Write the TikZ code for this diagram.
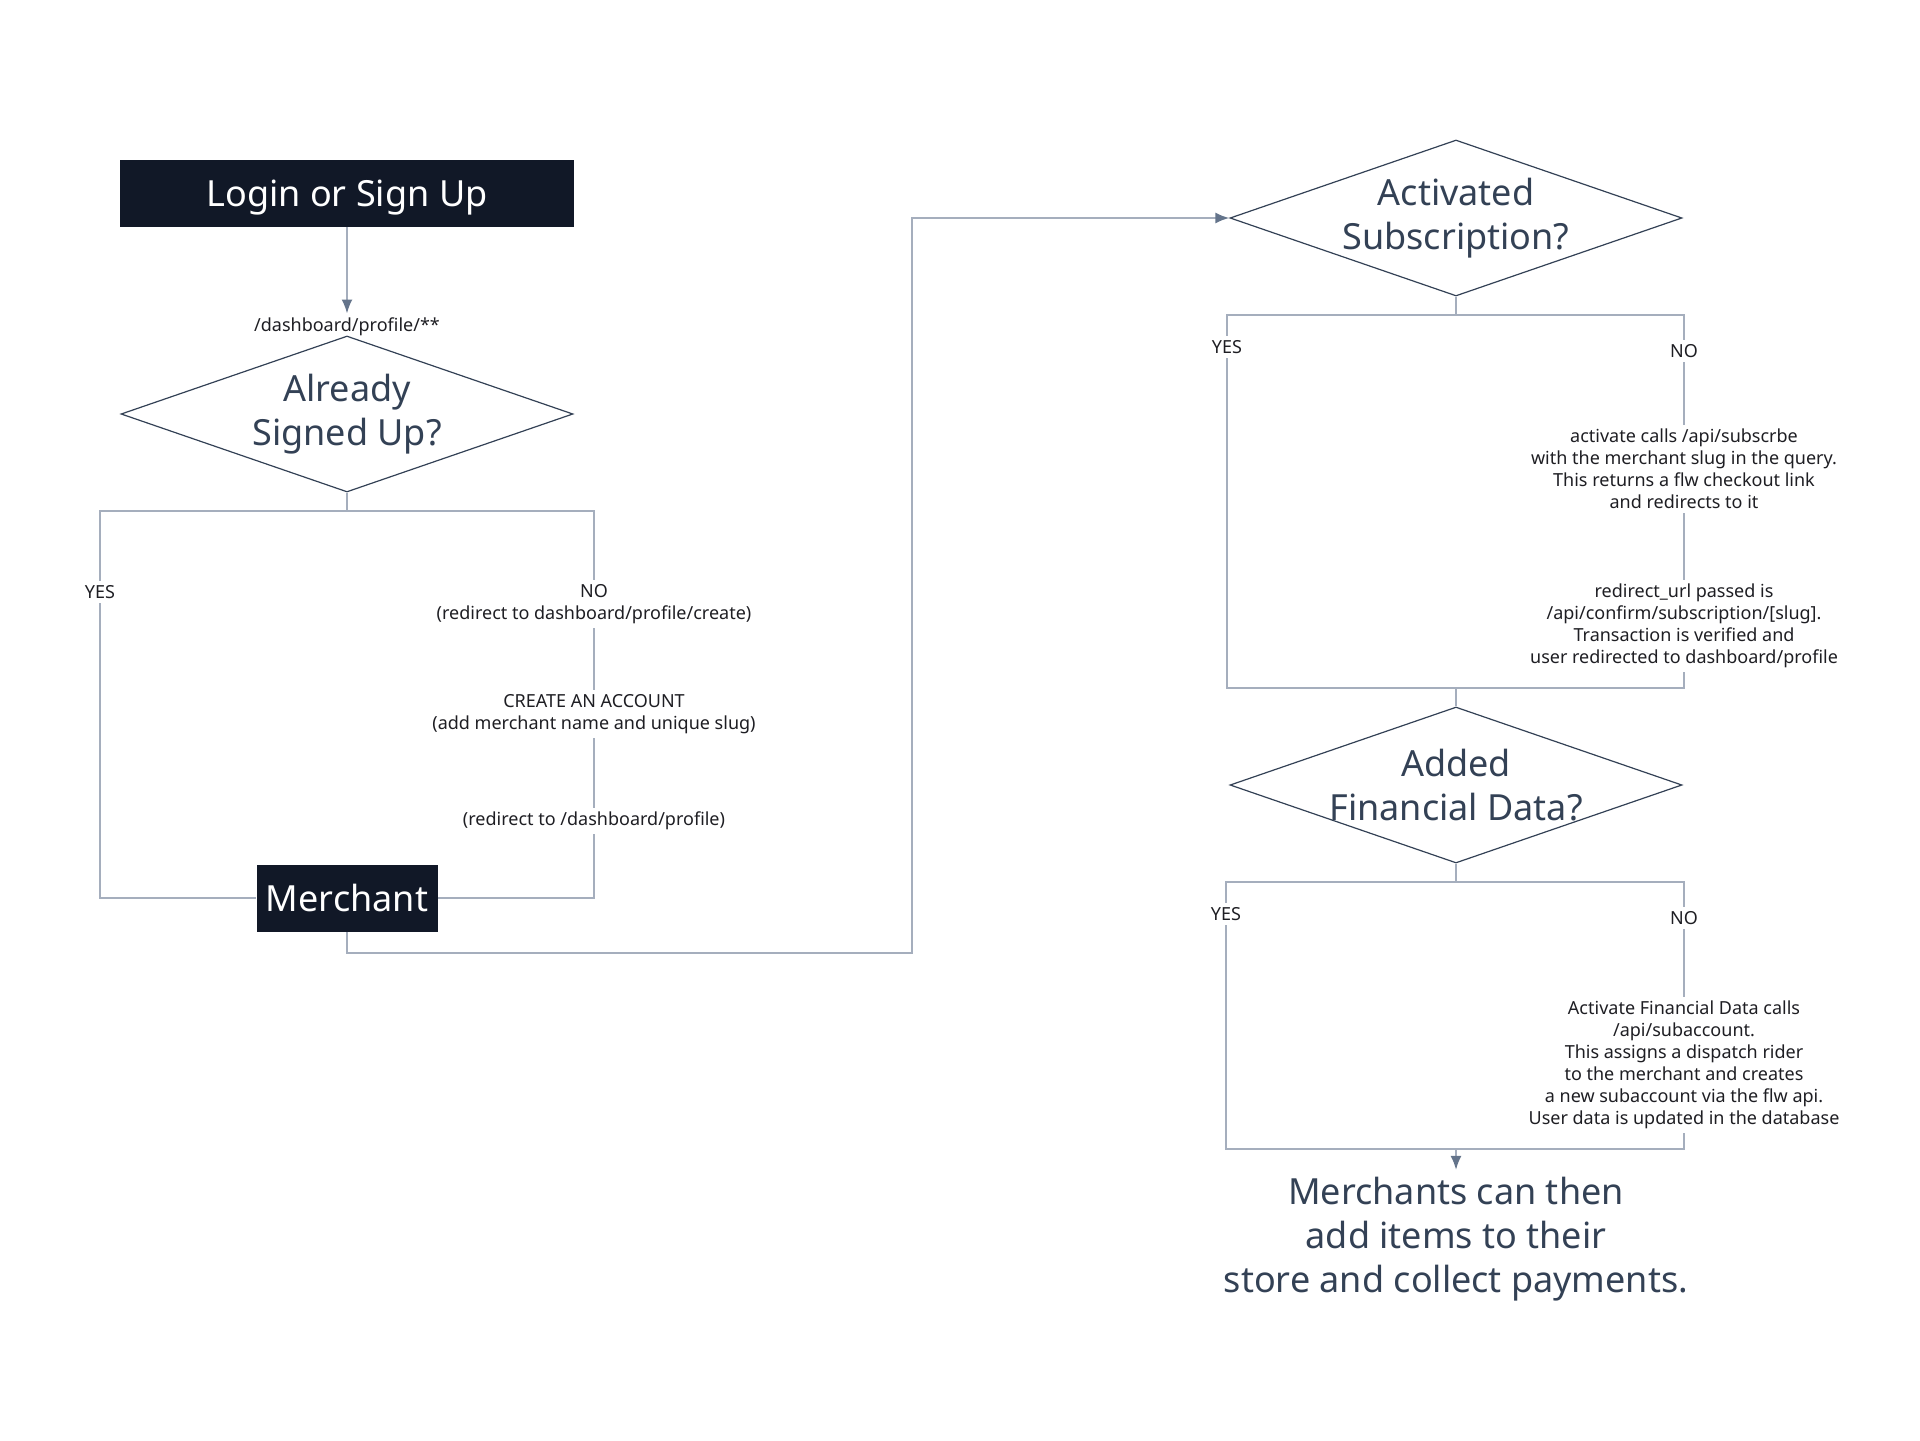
\documentclass[tikz,border=0pt]{standalone}
\usepackage{fontspec}
\setmainfont{Noto Sans}
\usepackage{tikz}
\usetikzlibrary{arrows.meta,shapes.geometric}
\definecolor{boxfill}{RGB}{17,24,39}
\definecolor{slate}{RGB}{51,65,85}
\definecolor{wire}{RGB}{165,174,189}
\definecolor{tipc}{RGB}{100,116,139}
\definecolor{ink}{RGB}{30,30,35}

\begin{document}
\begin{tikzpicture}[x=0.5pt,y=-0.5pt]
                \tikzset{darkbox/.style = {shape=rectangle,fill=boxfill,text=white,inner sep=0pt,text depth=0pt,font=\fontsize{18}{22}\selectfont}}
                \tikzset{decision/.style = {shape=diamond,draw=slate,line width=0.6pt,aspect=2.9,inner sep=-4pt,minimum width=226pt,minimum height=78pt,text=slate,align=center,font=\fontsize{18}{22}\selectfont}}
                \tikzset{lbl/.style = {text=ink,align=center,inner sep=2pt,font=\fontsize{9}{11}\selectfont}}
                \tikzset{line/.style = {draw=wire,line width=1pt}}
                \tikzset{edge/.style = {line,-{Latex[length=7pt,width=5.5pt,color=tipc]}}}
                \useasboundingbox (0,0) rectangle (1920,1440);
                % left column
                \node[darkbox, minimum width=227pt, minimum height=33.5pt] (login) at (347,193) {Login or Sign Up};
                \node[lbl] (path) at (347,327) {/dashboard/profile/**};
                \node[decision] (signed) at (347,414) {Already\\Signed Up?};
                \coordinate (signedsplit) at (347,511);
                \node[lbl] (yes1) at (100,592) {YES};
                \node[lbl] (no1) at (594,604) {NO\\(redirect to dashboard/profile/create)};
                \node[lbl] (create) at (594,714) {CREATE AN ACCOUNT\\(add merchant name and unique slug)};
                \node[lbl] (back) at (594,821) {(redirect to /dashboard/profile)};
                \node[darkbox, minimum width=90.5pt, minimum height=33.5pt] (merchant) at (347,898) {Merchant};
                \coordinate (turn) at (912,953);

                % right column
                \node[decision] (subscr) at (1456,218) {Activated\\Subscription?};
                \coordinate (subsplit) at (1456,315);
                \node[lbl] (yes2) at (1227,347) {YES};
                \node[lbl] (no2) at (1684,351) {NO};
                \node[lbl] (checkout) at (1684,469) {activate calls /api/subscrbe\\with the merchant slug in the query.\\This returns a flw checkout link\\and redirects to it};
                \node[lbl] (confirm) at (1684,626) {redirect\_url passed is\\/api/confirm/subscription/[slug].\\Transaction is verified and\\user redirected to dashboard/profile};
                \coordinate (subjoin) at (1456,688);
                \node[decision] (financial) at (1456,785) {Added\\Financial Data?};
                \coordinate (finsplit) at (1456,882);
                \node[lbl] (yes3) at (1226,914) {YES};
                \node[lbl] (no3) at (1684,918) {NO};
                \node[lbl] (subacct) at (1684,1065) {Activate Financial Data calls\\/api/subaccount.\\This assigns a dispatch rider\\to the merchant and creates\\a new subaccount via the flw api.\\User data is updated in the database};
                \coordinate (finjoin) at (1456,1149);
                \node[text=slate, align=center, font=\fontsize{18}{22}\selectfont] (done) at (1456,1239) {Merchants can then\\add items to their\\store and collect payments.};

                %edges
                \draw[edge] (login) to (path);
                \draw[line] (signed) -- (signedsplit) -| (yes1);
                \draw[line] (yes1) |- (merchant);
                \draw[line] (signedsplit) -| (no1);
                \draw[line] (no1) to (create);
                \draw[line] (create) to (back);
                \draw[line] (back) |- (merchant);
                \draw[edge] (merchant) |- (turn) |- (subscr.west);
                \draw[line] (subscr) -- (subsplit) -| (yes2);
                \draw[line] (subsplit) -| (no2);
                \draw[line] (no2) to (checkout);
                \draw[line] (checkout) to (confirm);
                \draw[line] (confirm) |- (subjoin);
                \draw[line] (yes2) |- (subjoin);
                \draw[line] (subjoin) to (financial);
                \draw[line] (financial) -- (finsplit) -| (yes3);
                \draw[line] (finsplit) -| (no3);
                \draw[line] (no3) to (subacct);
                \draw[line] (subacct) |- (finjoin);
                \draw[line] (yes3) |- (finjoin);
                \draw[edge] (finjoin) to (done);
            \end{tikzpicture}
\end{document}
